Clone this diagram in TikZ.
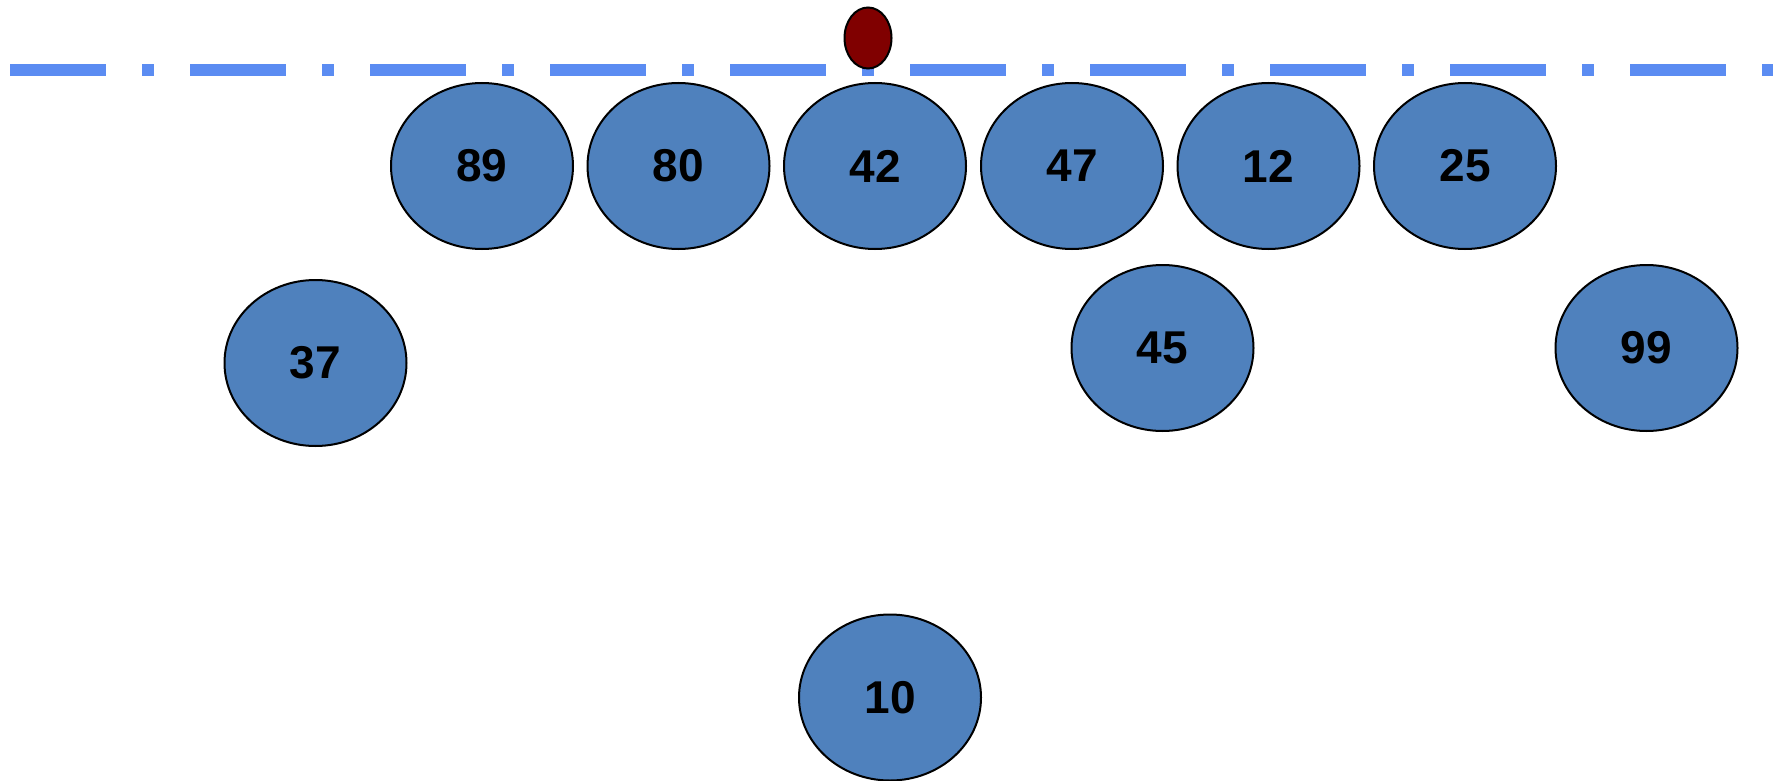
\documentclass[tikz,border=0pt]{standalone}
\usepackage{fontspec}
\setmainfont{Liberation Sans}
\usetikzlibrary{shapes.geometric}
\definecolor{keyblue}{HTML}{4F81BD}
\definecolor{lineblue}{HTML}{5B8CF2}
\definecolor{probered}{HTML}{800000}

\begin{document}
\begin{tikzpicture}[x=0.5pt,y=-0.5pt,
	key/.style={ellipse,draw=black,line width=1pt,fill=keyblue,
		minimum width=91pt,minimum height=83pt,inner sep=0pt,
		font=\fontsize{23}{23}\selectfont\bfseries},
	probe/.style={ellipse,draw=black,line width=1pt,fill=probered,
		minimum width=23.5pt,minimum height=30.5pt,inner sep=0pt},
	guide/.style={lineblue,line width=6pt,
		dash pattern=on 48pt off 18pt on 6pt off 18pt}]
	\useasboundingbox (0,0) rectangle (1773,781);
	
	% the dashed line
	\coordinate (gl) at (10,70);
	\coordinate (gr) at (1773,70);
	\draw[guide] (gl) -- (gr);
	\node[probe] (p) at (868,38) {};
	
	\node[key] (n89) at (482,166) {89};
	\node[key] (n80) at (678.5,166) {80};
	\node[key] (n42) at (875,166) {42};
	\node[key] (n47) at (1072,166) {47};
	\node[key] (n12) at (1268.5,166) {12};
	\node[key] (n25) at (1465,166) {25};
	
	\node[key] (n37) at (315.5,363) {37};
	\node[key] (n45) at (1162.5,348) {45};
	\node[key] (n99) at (1646.5,348) {99};
	\node[key] (n10) at (890,697.5) {10};
\end{tikzpicture}
\end{document}
